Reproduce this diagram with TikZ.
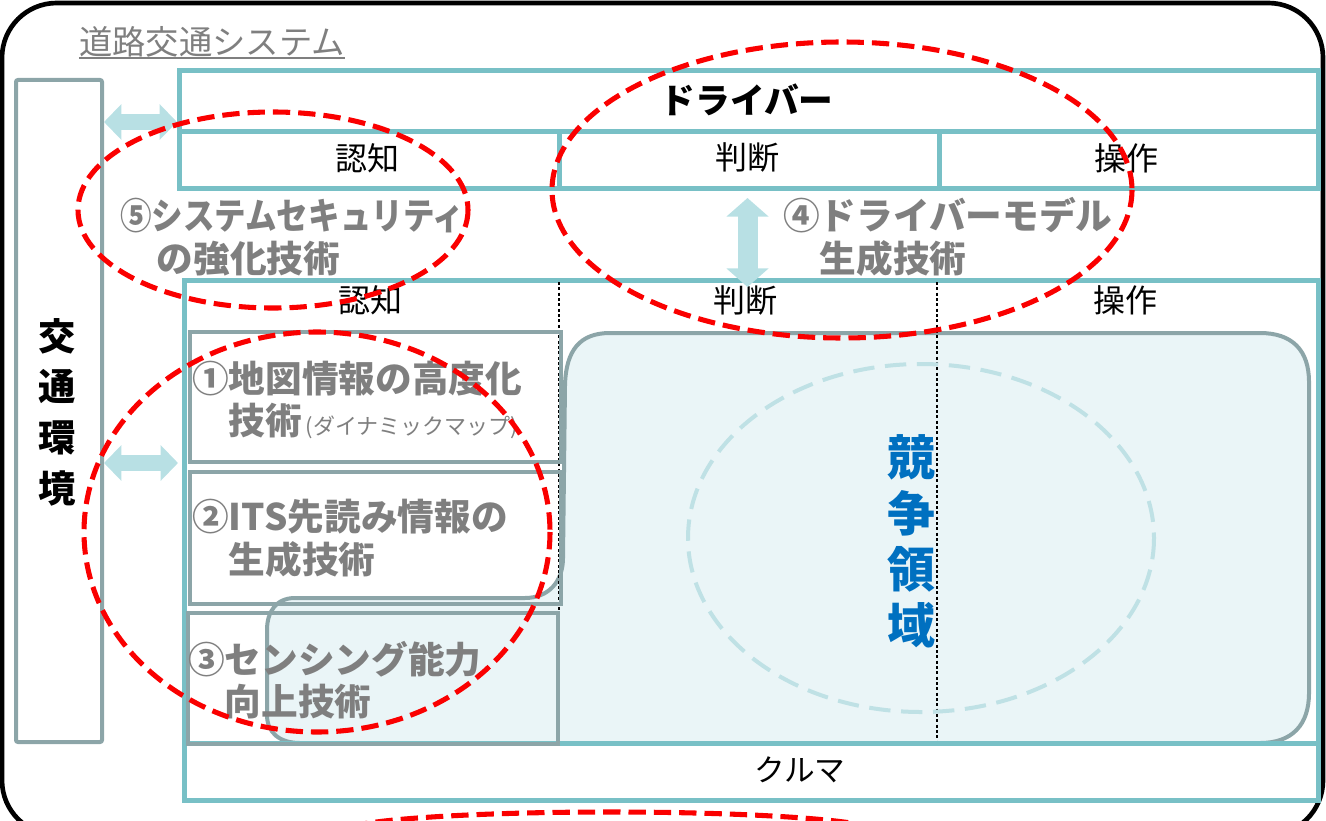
\documentclass[tikz,border=0pt]{standalone}
\usepackage{fontspec}
\setmainfont{Noto Sans CJK JP}
\usepackage{graphicx}
\usetikzlibrary{arrows.meta,calc}
\definecolor{tealc}{RGB}{120,192,198}
\definecolor{grayb}{RGB}{140,165,168}
\definecolor{regionfill}{RGB}{234,245,247}
\definecolor{arrowc}{RGB}{184,224,228}
\definecolor{dashblue}{RGB}{191,225,229}
\definecolor{redc}{RGB}{250,0,0}
\definecolor{bluetxt}{RGB}{0,112,192}
\definecolor{graytxt}{RGB}{127,127,127}
\newcommand\mkbox[6]{\node[#6, anchor=north west, minimum width={(#4-#2)*0.75pt}, minimum height={(#5-#3)*0.75pt}] (#1) at (#2,#3) {};}
\tikzset{
  tealbox/.style={draw=tealc, line width=3.75pt, inner sep=0pt},
  graybox/.style={draw=grayb, line width=3pt, inner sep=0pt},
  envbox/.style={draw=grayb, line width=3pt, inner sep=0pt, rounded corners=1.5pt},
  lbl/.style={inner sep=0pt, font=\fontsize{24}{28}\selectfont},
  tech/.style={inner sep=0pt, anchor=west, align=left, text=graytxt, font=\fontsize{27.5}{32}\selectfont\bfseries},
  reddash/.style={draw=redc, line width=3.8pt, dash pattern=on 13pt off 6pt},
  dotline/.style={line width=1.8pt, dash pattern=on 2.2pt off 1.8pt},
  blockh/.style={draw=arrowc, line width=12.5pt, {Triangle[width=26pt,length=13pt]}-{Triangle[width=26pt,length=13pt]}},
  blockv/.style={draw=arrowc, line width=15pt, {Triangle[width=31pt,length=14pt]}-{Triangle[width=31pt,length=14pt]}},
}
\begin{document}
\begin{tikzpicture}[x=0.75pt,y=-0.75pt]
\useasboundingbox (0,0) rectangle (1326,820);
% outer frame
\draw[line width=3.5pt, rounded corners=41pt] (2,3) rectangle (1323,835);
% title
\node[inner sep=0pt, text=graytxt, font=\fontsize{25}{28}\selectfont] (title) at (212,42) {道路交通システム};
\draw[graytxt, line width=1.3pt] (title.south west) -- (title.south east);
% traffic environment
\mkbox{env}{14}{78}{100}{740}{envbox}
\node[inner sep=0pt, align=center, font=\fontsize{28}{38}\selectfont\bfseries] (envtxt) at (57,412) {交\\通\\環\\境};
% driver
\mkbox{drv}{177}{68}{1316}{129}{tealbox}
\mkbox{cog}{177}{129}{557}{186}{tealbox}
\mkbox{judge}{557}{129}{937}{186}{tealbox}
\mkbox{op}{937}{129}{1316}{186}{tealbox}
\node[inner sep=0pt, font=\fontsize{26}{30}\selectfont\bfseries] (drvtxt) at (747,100) {ドライバー};
\node[lbl] (cogtxt) at (367,158) {認知};
\node[lbl] (judgetxt) at (747,158) {判断};
\node[lbl] (optxt) at (1126,158) {操作};
% car
\mkbox{car}{182}{278}{1316}{798}{tealbox}
\node[lbl] (ccog) at (370,300) {認知};
\node[lbl] (cjudge) at (745,300) {判断};
\node[lbl] (cop) at (1125,300) {操作};
% competition region
\path[fill=regionfill, draw=grayb, line width=3pt]
 (610,333) -- (1260,333) .. controls (1292,333) and (1309,350) .. (1309,382)
 -- (1309,693) .. controls (1309,725) and (1292,743) .. (1260,743)
 -- (300,743) .. controls (280,743) and (267,733) .. (267,715)
 -- (267,630) .. controls (267,612) and (276,598) .. (295,598)
 -- (525,598) .. controls (548,598) and (563,582) .. (563,558)
 -- (565,385) .. controls (566,350) and (580,333) .. (610,333) -- cycle;
\draw[dotline] (559,282) -- (559,741);
\draw[dotline] (937,282) -- (937,741);
\draw[dashblue, line width=3pt, dash pattern=on 16pt off 8pt] (921,538) ellipse [x radius=233, y radius=174];
\node[inner sep=0pt, align=center, text=bluetxt, font=\fontsize{36}{42}\selectfont\bfseries] (comp) at (911,541) {競\\争\\領\\域};
% car row
\mkbox{carrow}{182}{741}{1316}{798}{tealbox}
\node[inner sep=0pt, font=\fontsize{23}{26}\selectfont] (cartxt) at (800,770) {クルマ};
% technology boxes
\mkbox{b1}{188}{330}{559}{460}{graybox}
\mkbox{b2}{188}{470}{559}{602}{graybox}
\mkbox{b3}{186}{611}{556}{742}{graybox}
\node[tech] (t1) at (192,400) {①地図情報の高度化\\\hspace*{1em}技術{\fontsize{16.5}{18}\selectfont\mdseries\,(ダイナミックマップ)}};
\node[tech] (t2) at (192,538) {②ITS先読み情報の\\\hspace*{1em}生成技術};
\node[tech] (t3) at (188,680) {③センシング能力\\\hspace*{1em}向上技術};
\node[tech] (t5) at (120,237) {\scalebox{0.86}[1]{⑤システムセキュリティ}\\\hspace*{1em}の強化技術};
\node[tech] (t4) at (783,237) {④ドライバーモデル\\\hspace*{1em}生成技術};
% arrows
\coordinate (ya) at (0,122);
\coordinate (yb) at (0,463);
\draw[blockh] (env.east |- ya) -- (drv.west |- ya);
\draw[blockh] (env.east |- yb) -- ($(car.west |- yb)+(-4,0)$);
\draw[blockv] ($(judge.south)+(-2,7)$) -- ($(car.north)+(-4,9)$);
% red ellipses
\draw[reddash] (273,210) ellipse [x radius=195, y radius=98];
\draw[reddash] (842,190) ellipse [x radius=290, y radius=148];
\draw[reddash] (317,532) ellipse [x radius=233, y radius=200];
\draw[reddash] (610,832) ellipse [x radius=270, y radius=20];
\end{tikzpicture}
\end{document}
